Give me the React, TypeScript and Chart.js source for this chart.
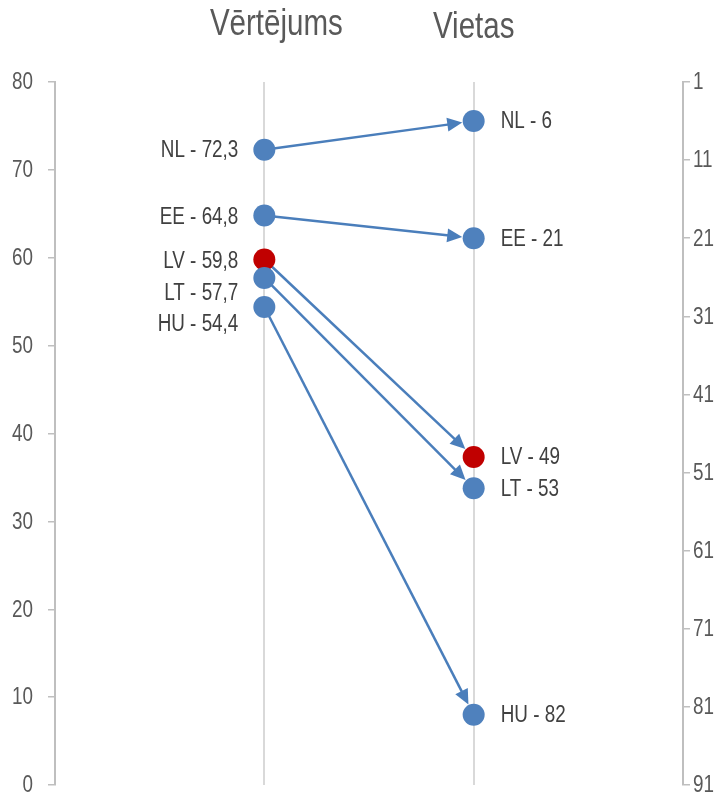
import React, { useEffect, useRef } from "react";
import { Chart, registerables } from "chart.js";

Chart.register(...registerables);

// ---- data ----
const countries = ["NL", "EE", "LV", "LT", "HU"];
const scores = [72.3, 64.8, 59.8, 57.7, 54.4];
const ranks = [6, 21, 49, 53, 82];
const highlight = ["LV"];
const columnTitles = ["Vērtējums", "Vietas"];
const scoreTicks = [0, 10, 20, 30, 40, 50, 60, 70, 80];
const rankTicks = [1, 11, 21, 31, 41, 51, 61, 71, 81, 91];

// ---- style ----
const FONT = "'Liberation Sans', Arial, sans-serif";
const NARROW = 0.82; // Arial Narrow ≈ Arial condensed horizontally
const BLUE = "#4f81bd";
const RED = "#c00000";
const LINE = "#4a7ebb";
const AXIS = "#bfbfbf";
const GRID = "#d9d9d9";
const TICK_TEXT = "#595959";
const LABEL_TEXT = "#404040";
const POINT_R = 11;
const leftLabelShift = [0, 1, 1, 15, 17];

const fmt = (v: number) => String(v).replace(".", ",");

function narrowText(ctx: CanvasRenderingContext2D, text: string, x: number, y: number, align: CanvasTextAlign) {
  ctx.save();
  ctx.translate(x, y);
  ctx.scale(NARROW, 1);
  ctx.textAlign = align;
  ctx.fillText(text, 0, 0);
  ctx.restore();
}

const arrowPlugin = {
  id: "arrows",
  beforeDatasetsDraw(chart: any) {
    const { ctx } = chart;
    const xs = chart.scales.x, ys = chart.scales.y, yr = chart.scales.y2;
    ctx.save();
    ctx.strokeStyle = LINE;
    ctx.fillStyle = LINE;
    ctx.lineWidth = 2.5;
    const head = 15, half = 7;
    countries.forEach((_, i) => {
      const x1 = xs.getPixelForValue(1), y1 = ys.getPixelForValue(scores[i]);
      const x2 = xs.getPixelForValue(2), y2 = yr.getPixelForValue(ranks[i]);
      const dx = x2 - x1, dy = y2 - y1;
      const len = Math.hypot(dx, dy);
      const ux = dx / len, uy = dy / len;
      const tx = x2 - ux * (POINT_R + 0.5), ty = y2 - uy * (POINT_R + 0.5);
      const bx = tx - ux * head, by = ty - uy * head;
      ctx.beginPath();
      ctx.moveTo(x1, y1);
      ctx.lineTo(bx + ux * 2, by + uy * 2);
      ctx.stroke();
      ctx.beginPath();
      ctx.moveTo(tx, ty);
      ctx.lineTo(bx - uy * half, by + ux * half);
      ctx.lineTo(bx + uy * half, by - ux * half);
      ctx.closePath();
      ctx.fill();
    });
    ctx.restore();
  },
};

const labelPlugin = {
  id: "labels",
  afterDatasetsDraw(chart: any) {
    const { ctx } = chart;
    const xs = chart.scales.x, ys = chart.scales.y, yr = chart.scales.y2;
    ctx.save();
    ctx.textBaseline = "middle";
    // axis tick labels
    ctx.font = `23px ${FONT}`;
    ctx.fillStyle = TICK_TEXT;
    ys.ticks.forEach((t: any) => {
      narrowText(ctx, String(t.value), ys.right - 7 - 15, ys.getPixelForValue(t.value) + 1, "right");
    });
    yr.ticks.forEach((t: any) => {
      narrowText(ctx, String(t.value), yr.left + 7 + 3, yr.getPixelForValue(t.value) + 1, "left");
    });
    // point labels
    ctx.fillStyle = LABEL_TEXT;
    countries.forEach((c, i) => {
      narrowText(
        ctx,
        `${c} - ${fmt(scores[i])}`,
        xs.getPixelForValue(1) - 26,
        ys.getPixelForValue(scores[i]) + leftLabelShift[i] + 1,
        "right"
      );
      narrowText(ctx, `${c} - ${ranks[i]}`, xs.getPixelForValue(2) + 27, yr.getPixelForValue(ranks[i]) + 1, "left");
    });
    // column titles
    ctx.font = `36px ${FONT}`;
    ctx.fillStyle = TICK_TEXT;
    ctx.textBaseline = "alphabetic";
    narrowText(ctx, columnTitles[0], xs.getPixelForValue(1) + 12, 35, "center");
    narrowText(ctx, columnTitles[1], xs.getPixelForValue(2), 38, "center");
    ctx.restore();
  },
};

export default function App() {
  const ref = useRef<HTMLCanvasElement>(null);
  useEffect(() => {
    document.body.style.margin = "0";
    const canvas = ref.current!;
    const colors = countries.map((c) => (highlight.includes(c) ? RED : BLUE));
    const noPad = (s: any, w: number) => {
      s.width = w;
      s.paddingTop = 0;
      s.paddingBottom = 0;
    };
    const chart = new Chart(canvas, {
      type: "scatter",
      data: {
        datasets: [
          {
            data: scores.map((v) => ({ x: 1, y: v })),
            yAxisID: "y",
            pointRadius: POINT_R,
            pointBorderWidth: 0,
            pointBackgroundColor: colors,
          },
          {
            data: ranks.map((v) => ({ x: 2, y: v })),
            yAxisID: "y2",
            pointRadius: POINT_R,
            pointBorderWidth: 0,
            pointBackgroundColor: colors,
          },
        ],
      },
      options: {
        responsive: false,
        animation: false,
        events: [],
        layout: { padding: { top: 82, bottom: 11, left: 0, right: 0 } },
        plugins: { legend: { display: false }, tooltip: { enabled: false } },
        scales: {
          x: {
            type: "linear",
            min: 0,
            max: 3,
            position: "bottom",
            ticks: { display: false, stepSize: 1 },
            border: { display: false },
            grid: {
              drawTicks: false,
              lineWidth: 2,
              color: (c: any) => (c.tick && (c.tick.value === 1 || c.tick.value === 2) ? GRID : "rgba(0,0,0,0)"),
            },
            afterFit: (s: any) => {
              s.height = 0;
              s.paddingLeft = 0;
              s.paddingRight = 0;
            },
          },
          y: {
            type: "linear",
            position: "left",
            min: 0,
            max: 80,
            afterBuildTicks: (s: any) => {
              s.ticks = scoreTicks.map((v) => ({ value: v }));
            },
            ticks: { color: "rgba(0,0,0,0)", font: { family: FONT, size: 23 }, padding: 15 },
            grid: { drawOnChartArea: false, drawTicks: true, tickLength: 7, color: AXIS, lineWidth: 1.5 },
            border: { display: true, color: AXIS, width: 2 },
            afterFit: (s: any) => noPad(s, 55),
          },
          y2: {
            type: "linear",
            position: "right",
            min: 1,
            max: 91,
            reverse: true,
            afterBuildTicks: (s: any) => {
              s.ticks = rankTicks.map((v) => ({ value: v }));
            },
            ticks: { color: "rgba(0,0,0,0)", font: { family: FONT, size: 23 }, padding: 4 },
            grid: { drawOnChartArea: false, drawTicks: true, tickLength: 7, color: AXIS, lineWidth: 1.5 },
            border: { display: true, color: AXIS, width: 2 },
            afterFit: (s: any) => noPad(s, 39),
          },
        },
      },
      plugins: [arrowPlugin, labelPlugin],
    });
    return () => chart.destroy();
  }, []);
  return <canvas ref={ref} width={722} height={796} style={{ display: "block" }} />;
}
